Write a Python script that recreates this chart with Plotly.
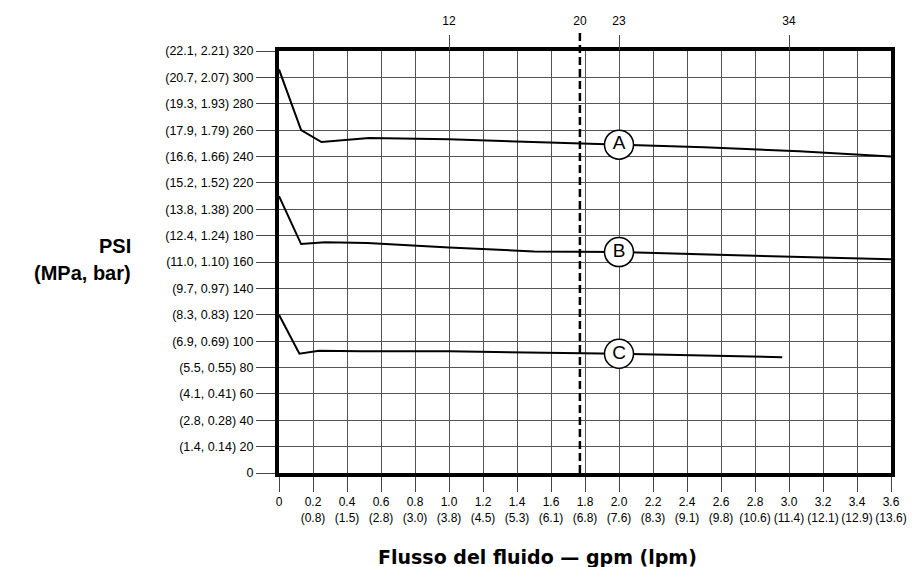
import plotly.graph_objects as go

# ---- data ----
curve_A_x = [0, 0.13, 0.25, 0.53, 1.0, 1.5, 2.0, 2.5, 3.06, 3.6]
curve_A_y = [306, 260, 251, 254, 253, 251, 249, 247, 244, 240]
curve_B_x = [0, 0.13, 0.27, 0.52, 1.0, 1.5, 2.0, 2.97, 3.6]
curve_B_y = [210, 173.6, 175, 174.5, 171, 168, 167.5, 164.5, 162]
curve_C_x = [0, 0.12, 0.235, 0.48, 1.0, 1.5, 2.0, 2.96]
curve_C_y = [120, 90.5, 92.7, 92.3, 92.3, 91.3, 90.4, 87.8]
curve_names = ["A", "B", "C"]
label_x = 2.0
marker_line_x = 1.77
marker_line_label = "20"

y_tickvals = list(range(0, 321, 20))
y_ticktext = ["0", "(1.4, 0.14) 20", "(2.8, 0.28) 40", "(4.1, 0.41) 60",
              "(5.5, 0.55) 80", "(6.9, 0.69) 100", "(8.3, 0.83) 120",
              "(9.7, 0.97) 140", "(11.0, 1.10) 160", "(12.4, 1.24) 180",
              "(13.8, 1.38) 200", "(15.2, 1.52) 220", "(16.6, 1.66) 240",
              "(17.9, 1.79) 260", "(19.3, 1.93) 280", "(20.7, 2.07) 300",
              "(22.1, 2.21) 320"]
x_tickvals = [round(0.2 * i, 1) for i in range(19)]
x_gpm = ["0", "0.2", "0.4", "0.6", "0.8", "1.0", "1.2", "1.4", "1.6", "1.8",
         "2.0", "2.2", "2.4", "2.6", "2.8", "3.0", "3.2", "3.4", "3.6"]
x_lpm = ["", "(0.8)", "(1.5)", "(2.8)", "(3.0)", "(3.8)", "(4.5)", "(5.3)",
         "(6.1)", "(6.8)", "(7.6)", "(8.3)", "(9.1)", "(9.8)", "(10.6)",
         "(11.4)", "(12.1)", "(12.9)", "(13.6)"]
top_tickvals = [1.0, 2.0, 3.0]
top_ticktext = ["12", "23", "34"]

x_title = "Flusso del fluido — gpm (lpm)"
y_title_1 = "PSI"
y_title_2 = "(MPa, bar)"

FONT = "Liberation Sans, Arial, sans-serif"
TITLE_FONT = "DejaVu Sans, Arial, sans-serif"

fig = go.Figure()
curves = [(curve_A_x, curve_A_y), (curve_B_x, curve_B_y), (curve_C_x, curve_C_y)]
for (cx, cy) in curves:
    fig.add_trace(go.Scatter(x=cx, y=cy, mode="lines",
                             line=dict(color="black", width=2),
                             showlegend=False, hoverinfo="skip"))

# circled labels
lab_y = [cy[cx.index(label_x)] for (cx, cy) in curves]
fig.add_trace(go.Scatter(x=[label_x] * 3, y=lab_y, mode="markers+text",
                         text=curve_names, textposition="middle center",
                         textfont=dict(family=FONT, size=19, color="black"),
                         marker=dict(size=29, color="white",
                                     line=dict(color="black", width=1.5)),
                         showlegend=False, hoverinfo="skip", cliponaxis=False))

# dashed reference line
fig.add_shape(type="line", xref="x", yref="paper", x0=marker_line_x, x1=marker_line_x,
              y0=0, y1=1.047, line=dict(color="black", width=2.5, dash="8px,4px"))

# dummy traces for top axes
fig.add_trace(go.Scatter(x=[0, 3.6], y=[0, 0], xaxis="x2", mode="markers",
                         marker=dict(opacity=0), showlegend=False, hoverinfo="skip"))
fig.add_trace(go.Scatter(x=[0, 3.6], y=[0, 0], xaxis="x3", mode="markers",
                         marker=dict(opacity=0), showlegend=False, hoverinfo="skip"))

tickfont = dict(family=FONT, size=12, color="black")
fig.update_layout(
    width=915, height=567, autosize=False,
    paper_bgcolor="white", plot_bgcolor="white",
    margin=dict(l=271, r=32, t=43, b=102),
    xaxis=dict(range=[0, 3.6], tickmode="array", tickvals=x_tickvals,
               ticktext=[g if l == "" else g + "<br>" + l for g, l in zip(x_gpm, x_lpm)],
               ticks="outside", ticklen=15, tickcolor="#444", tickwidth=1,
               tickfont=tickfont, showgrid=True, gridcolor="#555", gridwidth=1,
               zeroline=False, showline=True, linecolor="black", linewidth=4,
               mirror=True, automargin=False, fixedrange=True),
    xaxis2=dict(range=[0, 3.6], overlaying="x", side="top", tickmode="array",
                tickvals=top_tickvals, ticktext=top_ticktext, ticks="outside",
                ticklen=15, tickcolor="#444", tickwidth=1, tickfont=tickfont,
                ticklabelstandoff=5,
                showgrid=False, zeroline=False, showline=False, automargin=False),
    xaxis3=dict(range=[0, 3.6], overlaying="x", side="top", tickmode="array",
                tickvals=[marker_line_x], ticktext=[marker_line_label],
                ticks="outside", ticklen=15, tickcolor="rgba(0,0,0,0)",
                tickfont=tickfont, ticklabelstandoff=5, showgrid=False,
                zeroline=False, showline=False, automargin=False),
    yaxis=dict(range=[0, 320], tickmode="array", tickvals=y_tickvals,
               ticktext=y_ticktext, ticks="outside", ticklen=19, tickcolor="#444",
               tickwidth=1, tickfont=dict(family=FONT, size=12.5, color="black"),
               showgrid=True, gridcolor="#555",
               gridwidth=1, zeroline=False, showline=True, linecolor="black",
               linewidth=4, mirror=True, automargin=False, fixedrange=True),
    annotations=[
        dict(text="<b>" + x_title + "</b>", xref="paper", yref="paper", x=0.423, y=-0.2,
             xanchor="center", yanchor="middle", showarrow=False,
             font=dict(family=TITLE_FONT, size=19, color="black")),
        dict(text="<b>" + y_title_1 + "</b>", xref="paper", yref="paper", x=-0.2386, y=0.539,
             xanchor="right", yanchor="middle", showarrow=False,
             font=dict(family=FONT, size=20, color="black")),
        dict(text="<b>" + y_title_2 + "</b>", xref="paper", yref="paper", x=-0.2386, y=0.475,
             xanchor="right", yanchor="middle", showarrow=False,
             font=dict(family=FONT, size=20, color="black")),
    ],
)

fig.write_html("out.html")
